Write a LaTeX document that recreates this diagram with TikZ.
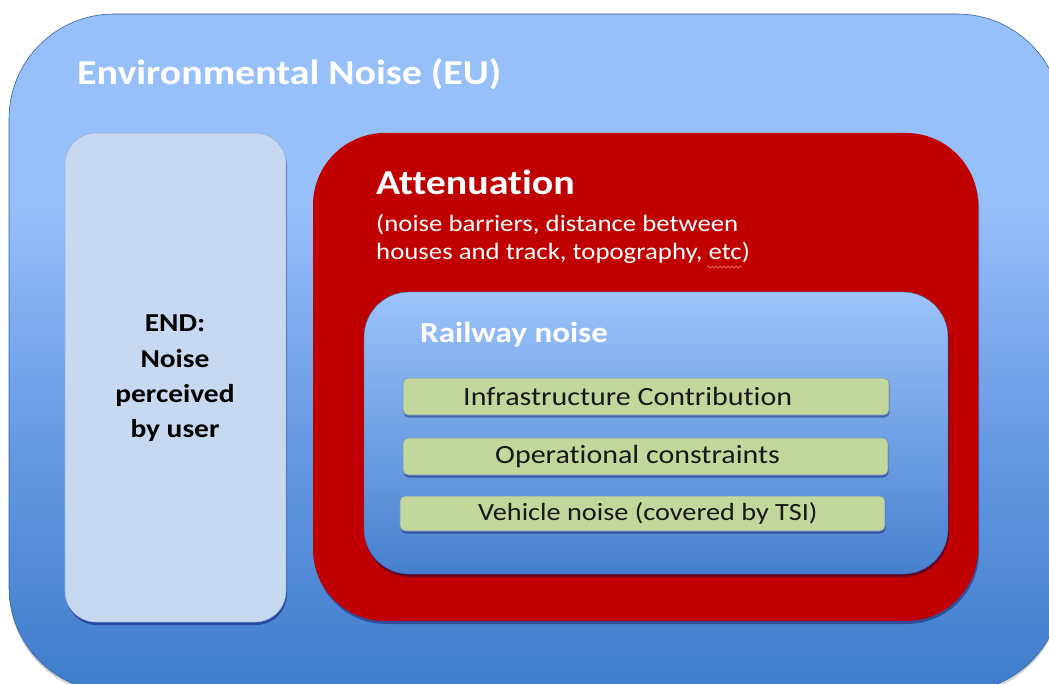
\documentclass[tikz,border=0pt]{standalone}
\usepackage{fontspec}
\setmainfont{Carlito}[FakeStretch=1.14, Ligatures=NoCommon]
\usetikzlibrary{shadows,decorations.pathmorphing}

\definecolor{skyTop}{RGB}{151,191,250}
\definecolor{skyMid}{RGB}{102,152,226}
\definecolor{skyBot}{RGB}{62,125,204}
\definecolor{railTop}{RGB}{156,195,250}
\definecolor{railMid}{RGB}{118,164,234}
\definecolor{railBot}{RGB}{70,128,206}
\definecolor{paleBlue}{RGB}{198,217,241}
\definecolor{paleEdge}{RGB}{150,180,220}
\definecolor{attRed}{RGB}{192,0,0}
\definecolor{barGreen}{RGB}{195,214,155}
\definecolor{barEdge}{RGB}{120,150,200}
\definecolor{spellRed}{RGB}{235,90,90}

% sky gradient: light over the top third, darkening towards the bottom
\pgfdeclareverticalshading{envshade}{100bp}{color(0bp)=(skyBot); color(25bp)=(skyBot);
  color(43bp)=(skyMid); color(61bp)=(skyTop); color(100bp)=(skyTop)}

\tikzset{
  panel/.style={inner sep=0pt, outer sep=0pt},
  envbox/.style={panel, shading=envshade,
    draw=skyBot!80!black, line width=0.6pt, rounded corners=105pt,
    drop shadow={shadow xshift=0pt, shadow yshift=-3pt, opacity=0.35, fill=black!40!olive!30!gray}},
  endbox/.style={panel, fill=paleBlue, draw=paleEdge, line width=0.6pt, rounded corners=31pt,
    drop shadow={shadow xshift=1pt, shadow yshift=-3pt, opacity=0.45, fill=blue!40!black}},
  attbox/.style={panel, fill=attRed, rounded corners=72pt,
    drop shadow={shadow xshift=1pt, shadow yshift=-3pt, opacity=0.4, fill=blue!30!black}},
  railbox/.style={panel, top color=railTop, middle color=railMid, bottom color=railBot,
    draw=railBot!80!black, line width=0.4pt, rounded corners=45pt,
    drop shadow={shadow xshift=1pt, shadow yshift=-3pt, opacity=0.45, fill=blue!30!black}},
  barbox/.style={panel, fill=barGreen, draw=barEdge, line width=0.8pt, rounded corners=5pt,
    drop shadow={shadow xshift=0.5pt, shadow yshift=-2.5pt, opacity=0.4, fill=blue!30!black}},
  headtext/.style={anchor=base west, inner sep=0pt, text=white, font=\bfseries\fontsize{35}{42}\selectfont},
  subhead/.style={anchor=base west, inner sep=0pt, text=white, font=\bfseries\fontsize{29}{35}\selectfont},
  notetext/.style={anchor=base west, inner sep=0pt, text=white, font=\fontsize{23.5}{28}\selectfont},
  endtext/.style={anchor=base, inner sep=0pt, text=black, font=\bfseries\fontsize{25.8}{31}\selectfont},
  bartext/.style={anchor=base west, inner sep=0pt, text=black!90, font=\fontsize{26.3}{31}\selectfont},
  smallbartext/.style={bartext, font=\fontsize{24.8}{30}\selectfont},
}

\begin{document}
\begin{tikzpicture}[x=1pt,y=-1pt]
\useasboundingbox (0,0) rectangle (1049,684);
\fill[white] (0,0) rectangle (1049,684);
\clip (0,0) rectangle (1049,684);

% outer frame: environmental noise
\node[envbox, minimum width=1053pt, minimum height=678pt] (env) at (535.5,353) {};
\node[headtext] (envlabel) at (77,85) {Environmental Noise (EU)};

% left column: perceived noise
\node[endbox, minimum width=221pt, minimum height=489pt] (endcol) at (175.5,377.5) {};
\node[endtext] (end1) at (175,332) {END:};
\node[endtext] (end2) at (175,367) {Noise};
\node[endtext] (end3) at (175,402) {perceived};
\node[endtext] (end4) at (175,437) {by user};

% attenuation frame
\node[attbox, minimum width=665pt, minimum height=488pt] (att) at (645.5,377) {};
\node[headtext] (attlabel) at (376,195) {Attenuation};
\node[notetext] (attnote1) at (376,232) {(noise barriers, distance between};
\node[notetext] (attnote2) at (376,260) {houses and track, topography, etc)};
\draw[spellRed, line width=0.8pt, decorate, decoration={snake, amplitude=1pt, segment length=4pt}]
  (707,267) -- (742,267);

% railway noise frame
\node[railbox, minimum width=584pt, minimum height=282pt] (rail) at (656,433) {};
\node[subhead] (raillabel) at (420,343) {Railway noise};

% contributions
\node[barbox, minimum width=486pt, minimum height=37pt] (infra) at (646,396.5) {};
\node[bartext] (infralabel) at (463,405) {Infrastructure Contribution};
\node[barbox, minimum width=485pt, minimum height=37pt] (oper) at (645.5,456.5) {};
\node[bartext] (operlabel) at (495,463) {Operational constraints};
\node[barbox, minimum width=485pt, minimum height=35pt] (veh) at (642.5,513.5) {};
\node[smallbartext] (vehlabel) at (478,520) {Vehicle noise (covered by TSI)};
\end{tikzpicture}
\end{document}
